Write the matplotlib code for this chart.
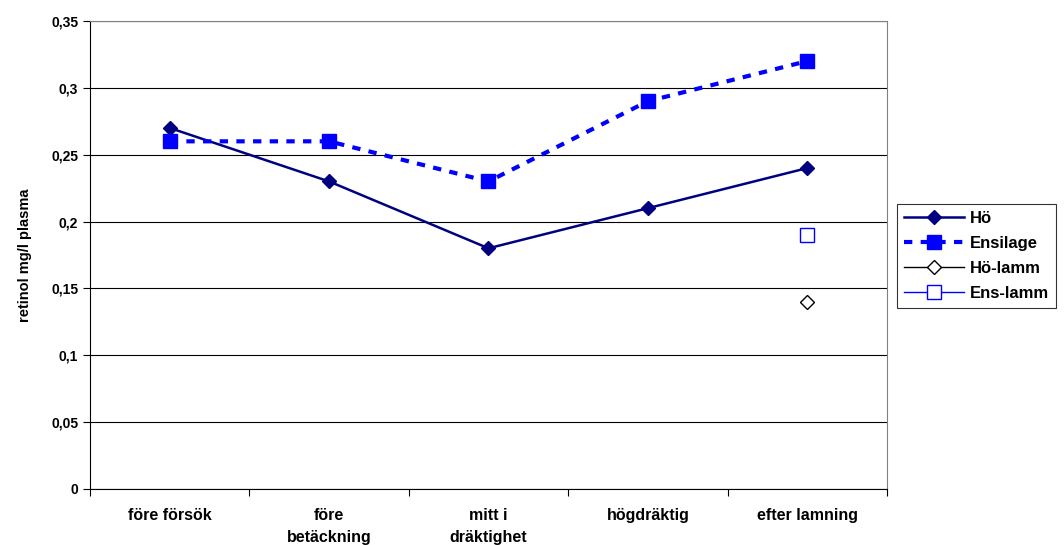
import numpy as np
import matplotlib.pyplot as plt

plt.rcParams['font.family'] = ['Liberation Sans', 'DejaVu Sans']

kategorier = ["före försök", "före\nbetäckning", "mitt i\ndräktighet", "högdräktig", "efter lamning"]
ho = [0.27, 0.23, 0.18, 0.21, 0.24]
ensilage = [0.26, 0.26, 0.23, 0.29, 0.32]
ho_lamm = [np.nan, np.nan, np.nan, np.nan, 0.14]
ens_lamm = [np.nan, np.nan, np.nan, np.nan, 0.19]
yticks = [0, 0.05, 0.1, 0.15, 0.2, 0.25, 0.3, 0.35]
ytick_labels = ["0", "0,05", "0,1", "0,15", "0,2", "0,25", "0,3", "0,35"]

fig = plt.figure(figsize=(10.64, 5.45), dpi=100)
ax = fig.add_axes([0.0846, 0.1028, 0.749, 0.8587])

x = np.arange(len(kategorier))
ax.plot(x, ho, color="#000080", lw=1.8, marker="D", ms=7, label="Hö")
ax.plot(x, ensilage, color="#0000FF", lw=3, ls=(0, (2, 2)), marker="s", ms=10, label="Ensilage")
ax.plot(x, ho_lamm, color="black", lw=1, marker="D", ms=7, mfc="white", mec="black", label="Hö-lamm")
ax.plot(x, ens_lamm, color="#0000FF", lw=1, marker="s", ms=10, mfc="white", mec="#0000FF", label="Ens-lamm")

ax.set_xlim(-0.5, 4.5)
ax.set_ylim(0, 0.35)
ax.set_yticks(yticks)
ax.set_yticklabels(ytick_labels, fontsize=10, fontweight="bold")
ax.set_xticks(np.arange(-0.5, 5, 1), minor=False)
ax.set_xticklabels([])
ax.set_xticks(x, minor=True)
ax.set_xticklabels(kategorier, minor=True, fontsize=11.5, fontweight="bold", va="top", linespacing=1.55)
ax.tick_params(axis="x", which="minor", length=0, pad=14)
ax.tick_params(axis="x", which="major", length=5, direction="out")
ax.tick_params(axis="y", length=5, direction="out")
ax.grid(axis="y", color="black", lw=0.8)
ax.set_axisbelow(True)
for s in ["top", "right"]:
    ax.spines[s].set_color("#808080")
ax.set_ylabel("retinol mg/l plasma", fontsize=10.5, fontweight="bold", labelpad=14)

leg = ax.legend(loc="center left", bbox_to_anchor=(1.0125, 0.498), frameon=True, fancybox=False,
                edgecolor="black", prop={"weight": "bold", "size": 12},
                borderaxespad=0, handlelength=3.6, labelspacing=0.6, borderpad=0.4, handletextpad=0.4)
leg.get_frame().set_linewidth(0.8)

fig.savefig("out.png", dpi=100)
